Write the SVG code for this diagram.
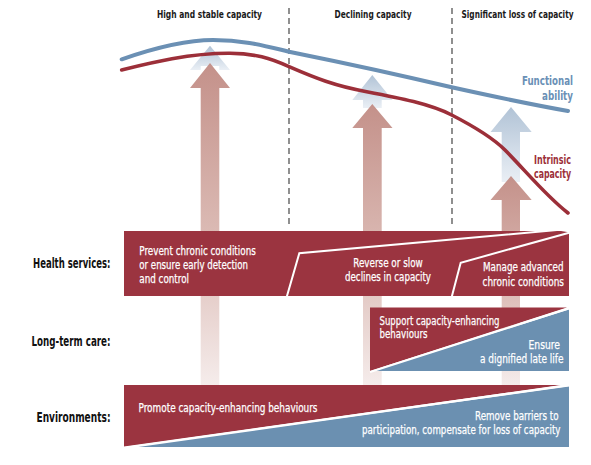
<svg xmlns="http://www.w3.org/2000/svg" width="591" height="465" viewBox="0 0 591 465">
<defs>
<style>
.hdr{font-family:"Liberation Sans Narrow","DejaVu Sans Condensed","Liberation Sans",sans-serif;font-weight:bold;font-size:11px;fill:#1a1a1a}
.lbl{font-family:"Liberation Sans Narrow","DejaVu Sans Condensed","Liberation Sans",sans-serif;font-weight:bold;font-size:13.5px;fill:#111}
.box{font-family:"Liberation Sans Narrow","DejaVu Sans Condensed","Liberation Sans",sans-serif;font-size:13px;fill:#fff;stroke:#fff;stroke-width:0.25}
.cl{font-family:"Liberation Sans Narrow","DejaVu Sans Condensed","Liberation Sans",sans-serif;font-weight:bold;font-size:12.5px}
.red{fill:#9b3440}
.blue{fill:#6b90b1}
.div{fill:none;stroke:#fff;stroke-width:2}
.dash{stroke:#555;stroke-width:1.3;stroke-dasharray:6 4;fill:none}
</style>
<linearGradient id="gRed" x1="0" y1="0" x2="0" y2="1">
<stop offset="0" stop-color="#c4918a"/>
<stop offset="0.55" stop-color="#dcbcb6"/>
<stop offset="1" stop-color="#f5eceb"/>
</linearGradient>
<linearGradient id="gBlue" x1="0" y1="0" x2="0" y2="1">
<stop offset="0" stop-color="#b1c3d6"/>
<stop offset="1" stop-color="#eaeff5"/>
</linearGradient>
</defs>
<rect width="591" height="465" fill="#fff"/>

<g id="headers">
<text class="hdr" x="209.5" y="17.5" text-anchor="middle" textLength="105" lengthAdjust="spacingAndGlyphs">High and stable capacity</text>
<text class="hdr" x="373" y="17.5" text-anchor="middle" textLength="77" lengthAdjust="spacingAndGlyphs">Declining capacity</text>
<text class="hdr" x="517.5" y="17.5" text-anchor="middle" textLength="112" lengthAdjust="spacingAndGlyphs">Significant loss of capacity</text>
</g>

<g id="dividers">
<line class="dash" x1="289" y1="8" x2="289" y2="228"/>
<line class="dash" x1="452" y1="8" x2="452" y2="228"/>
</g>

<g id="arrow1">
<polygon fill="url(#gBlue)" points="210,45.7 230,70 219.3,70 219.3,66 200.7,66 200.7,70 190,70"/>
<polygon fill="url(#gRed)" points="210,63 230,88 219.3,88 219.3,385 200.7,385 200.7,88 190,88"/>
</g>
<g id="arrow2">
<polygon fill="url(#gBlue)" points="372.3,75 392.5,100 381.7,100 381.7,108 363,108 363,100 352.3,100"/>
<polygon fill="url(#gRed)" points="372.3,104 392.5,128 381.7,128 381.7,385 363,385 363,128 352.3,128"/>
</g>
<g id="arrow3">
<polygon fill="url(#gBlue)" points="511,107 531.7,132 520,132 520,182 501.7,182 501.7,132 490.5,132"/>
<polygon fill="url(#gRed)" points="511,176 531.7,200 520,200 520,385 501.7,385 501.7,200 490.5,200"/>
</g>

<g id="functional-ability">
<path d="M121.7,59.3 C160,46 190,40 213,40 C245,40 265,46 289,51.7 C330,60 400,75 451.7,87.3 C500,98 540,106 568,111" fill="none" stroke="#6b90b4" stroke-width="4" stroke-linecap="round"/>
<text class="cl" fill="#6a90b6" x="573" y="85" text-anchor="end" textLength="51" lengthAdjust="spacingAndGlyphs">Functional</text>
<text class="cl" fill="#6a90b6" x="573" y="100" text-anchor="end" textLength="31" lengthAdjust="spacingAndGlyphs">ability</text>
</g>
<g id="intrinsic-capacity">
<path d="M121.7,70 C150,63 190,53 230,53.3 C255,53.5 270,58 289,66.7 C315,78 335,86 366.7,91.7 C400,98 430,104 451.7,115 C475,127 492,137 505,150 C525,170 545,195 568,213" fill="none" stroke="#9c2f39" stroke-width="3.6" stroke-linecap="round"/>
<text class="cl" fill="#9c2f39" x="571" y="164" text-anchor="end" textLength="37" lengthAdjust="spacingAndGlyphs">Intrinsic</text>
<text class="cl" fill="#9c2f39" x="571" y="178" text-anchor="end" textLength="37" lengthAdjust="spacingAndGlyphs">capacity</text>
</g>

<g id="health-services">
<text class="lbl" x="110.5" y="268" text-anchor="end" textLength="77.5" lengthAdjust="spacingAndGlyphs">Health services:</text>
<polygon class="red" points="124,231 555,231 569,231 569,296 124,296"/>
<polyline class="div" points="286.7,297 299.3,253.3 557,230"/>
<polyline class="div" points="451.7,297 460.7,262.7 570,232.5"/>
<polygon fill="#fff" points="555,230 570,230 570,232.6"/>
<text class="box" x="139.3" y="254.5" textLength="116.5" lengthAdjust="spacingAndGlyphs">Prevent chronic conditions</text>
<text class="box" x="139.3" y="268.5" textLength="108.7" lengthAdjust="spacingAndGlyphs">or ensure early detection</text>
<text class="box" x="139.3" y="282.5" textLength="49.7" lengthAdjust="spacingAndGlyphs">and control</text>
<text class="box" x="388" y="266.5" text-anchor="middle" textLength="69.5" lengthAdjust="spacingAndGlyphs">Reverse or slow</text>
<text class="box" x="388" y="280.5" text-anchor="middle" textLength="86" lengthAdjust="spacingAndGlyphs">declines in capacity</text>
<text class="box" x="563.5" y="271" text-anchor="end" textLength="80.5" lengthAdjust="spacingAndGlyphs">Manage advanced</text>
<text class="box" x="564" y="285.5" text-anchor="end" textLength="81.5" lengthAdjust="spacingAndGlyphs">chronic conditions</text>
</g>

<g id="long-term-care">
<text class="lbl" x="110.5" y="345.5" text-anchor="end" textLength="79" lengthAdjust="spacingAndGlyphs">Long-term care:</text>
<polygon class="red" points="370,307.5 567,307.5 370,371"/>
<polygon class="blue" points="373,371 569,309.5 569,371"/>
<line x1="370" y1="372" x2="570" y2="308" stroke="#fff" stroke-width="2"/>
<text class="box" x="379.5" y="324.5" textLength="120" lengthAdjust="spacingAndGlyphs">Support capacity-enhancing</text>
<text class="box" x="379.5" y="338" textLength="48" lengthAdjust="spacingAndGlyphs">behaviours</text>
<text class="box" x="560" y="348.5" text-anchor="end" textLength="31.5" lengthAdjust="spacingAndGlyphs">Ensure</text>
<text class="box" x="563.5" y="363" text-anchor="end" textLength="83.5" lengthAdjust="spacingAndGlyphs">a dignified late life</text>
</g>

<g id="environments">
<text class="lbl" x="110.5" y="421.5" text-anchor="end" textLength="74" lengthAdjust="spacingAndGlyphs">Environments:</text>
<polygon class="red" points="124,385 561,385 124,446.5"/>
<polygon class="blue" points="130,447 569,386.5 569,447"/>
<line x1="124" y1="448" x2="570" y2="385" stroke="#fff" stroke-width="2.2"/>
<text class="box" x="138.5" y="411.5" textLength="179" lengthAdjust="spacingAndGlyphs">Promote capacity-enhancing behaviours</text>
<text class="box" x="558.5" y="420" text-anchor="end" textLength="83.5" lengthAdjust="spacingAndGlyphs">Remove barriers to</text>
<text class="box" x="560.5" y="434" text-anchor="end" textLength="198.5" lengthAdjust="spacingAndGlyphs">participation, compensate for loss of capacity</text>
</g>
</svg>
